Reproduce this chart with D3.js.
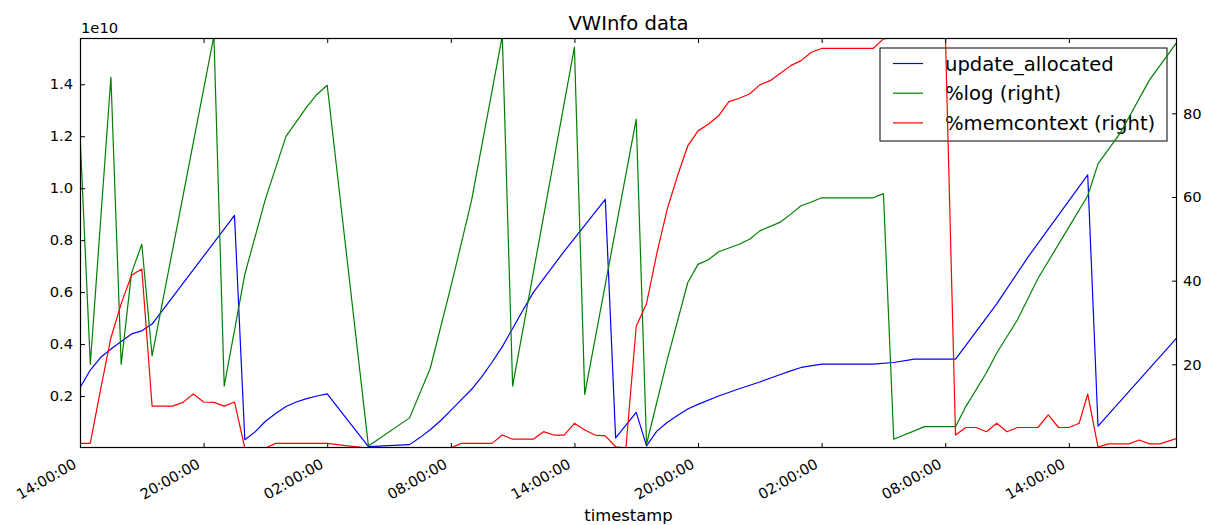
<!DOCTYPE html>
<html>
<head>
<meta charset="utf-8">
<script src="https://cdn.jsdelivr.net/npm/d3@7"></script>
<style>
  body { margin: 0; background: #fff; }
  svg { font-family: "DejaVu Sans", sans-serif; }
</style>
</head>
<body>
<svg class="svg-vwinfo" width="1205" height="525"></svg>
<script>
// tempo: "dia hh:mm"; update_allocated em unidades de 1e10
const updateAllocated = [
  ["1 14:00", 0.232], ["1 14:30", 0.30], ["1 15:00", 0.348], ["1 15:30", 0.381],
  ["1 16:00", 0.41], ["1 16:30", 0.439], ["1 17:00", 0.451], ["1 17:30", 0.477],
  ["1 21:30", 0.895], ["1 22:00", 0.032], ["1 22:30", 0.062], ["1 23:00", 0.103],
  ["1 23:30", 0.133], ["2 00:00", 0.16], ["2 00:30", 0.177], ["2 01:00", 0.19],
  ["2 01:30", 0.2], ["2 02:00", 0.208], ["2 04:00", 0.005], ["2 06:00", 0.013],
  ["2 06:30", 0.04], ["2 07:00", 0.07], ["2 07:30", 0.105], ["2 08:00", 0.145],
  ["2 08:30", 0.185], ["2 09:00", 0.225], ["2 09:30", 0.274], ["2 10:00", 0.33],
  ["2 10:30", 0.39], ["2 11:00", 0.46], ["2 11:30", 0.53], ["2 12:00", 0.598],
  ["2 13:30", 0.757], ["2 15:30", 0.957], ["2 16:00", 0.039], ["2 17:00", 0.137],
  ["2 17:30", 0.008], ["2 18:00", 0.065], ["2 18:30", 0.098], ["2 19:00", 0.125],
  ["2 19:30", 0.15], ["2 20:00", 0.168], ["2 21:00", 0.2], ["2 22:00", 0.228],
  ["2 23:00", 0.254], ["3 00:00", 0.283], ["3 00:30", 0.297], ["3 01:00", 0.31],
  ["3 02:00", 0.323], ["3 04:30", 0.323], ["3 05:30", 0.329], ["3 06:30", 0.342],
  ["3 08:30", 0.342], ["3 09:00", 0.395], ["3 10:30", 0.555], ["3 12:00", 0.733],
  ["3 14:55", 1.051], ["3 15:25", 0.084], ["3 19:15", 0.425]
];

const pctLog = [
  ["1 14:00", 75], ["1 14:30", 20], ["1 15:30", 88.6], ["1 16:00", 20],
  ["1 16:30", 41.8], ["1 17:00", 48.7], ["1 17:30", 22], ["1 20:30", 98.5],
  ["1 21:00", 14.8], ["1 22:00", 41.5], ["1 23:00", 59.5], ["2 00:00", 74.5],
  ["2 01:00", 81.5], ["2 01:30", 84.5], ["2 02:00", 86.7], ["2 04:00", 0.5],
  ["2 06:00", 7.2], ["2 07:00", 19], ["2 08:00", 38.5], ["2 09:00", 59],
  ["2 10:30", 98.5], ["2 11:00", 14.8], ["2 14:00", 95.8], ["2 14:30", 12.8],
  ["2 17:00", 78.6], ["2 17:30", 0.9], ["2 18:30", 21], ["2 19:30", 39.5],
  ["2 20:00", 43.9], ["2 20:30", 45], ["2 21:00", 46.9], ["2 22:00", 48.7],
  ["2 22:30", 49.9], ["2 23:00", 51.9], ["3 00:00", 54], ["3 00:30", 55.9],
  ["3 01:00", 57.9], ["3 01:30", 58.8], ["3 02:00", 59.8], ["3 04:30", 59.8],
  ["3 05:00", 60.8], ["3 05:30", 2.1], ["3 07:00", 5.1], ["3 08:30", 5.1],
  ["3 09:00", 9.9], ["3 10:00", 18], ["3 10:30", 22.7], ["3 11:30", 30.6],
  ["3 12:30", 40.5], ["3 14:00", 52.8], ["3 14:55", 60.3], ["3 15:25", 67.9],
  ["3 16:30", 75.3], ["3 17:55", 88], ["3 19:15", 97]
];

const pctMemcontext = [
  ["1 14:00", 1.1], ["1 14:30", 1.1], ["1 15:00", 14], ["1 15:30", 26.3],
  ["1 16:00", 34.5], ["1 16:30", 41.3], ["1 17:00", 42.8], ["1 17:30", 10],
  ["1 18:30", 10], ["1 19:00", 10.9], ["1 19:30", 12.9], ["1 20:00", 11],
  ["1 20:30", 10.9], ["1 21:00", 10], ["1 21:30", 11], ["1 22:00", 0],
  ["1 23:00", 0], ["1 23:30", 1.1], ["2 02:00", 1.1], ["2 03:00", 0.5],
  ["2 04:00", 0], ["2 08:00", 0], ["2 08:30", 1.1], ["2 10:00", 1.1],
  ["2 10:30", 3.1], ["2 11:00", 2.1], ["2 12:00", 2.1], ["2 12:30", 3.9],
  ["2 13:00", 3.1], ["2 13:30", 3.1], ["2 14:00", 5.9], ["2 14:30", 4.3],
  ["2 15:00", 3.1], ["2 15:30", 2.9], ["2 16:00", 0.3], ["2 16:30", 0],
  ["2 17:00", 29.1], ["2 17:30", 34.5], ["2 18:00", 46.5], ["2 18:30", 57],
  ["2 19:00", 65], ["2 19:30", 72.2], ["2 20:00", 75.8], ["2 20:30", 77.4],
  ["2 21:00", 79.4], ["2 21:30", 82.8], ["2 22:00", 83.6], ["2 22:30", 84.6],
  ["2 23:00", 86.8], ["2 23:30", 87.8], ["3 00:00", 89.6], ["3 00:30", 91.4],
  ["3 01:00", 92.6], ["3 01:30", 94.6], ["3 02:00", 95.5], ["3 04:30", 95.5],
  ["3 05:00", 97.8], ["3 05:30", 98.1], ["3 06:00", 99.5], ["3 06:30", 100],
  ["3 08:00", 100], ["3 08:30", 3.1], ["3 09:00", 4.9], ["3 09:30", 4.9],
  ["3 10:00", 3.9], ["3 10:30", 5.9], ["3 11:00", 3.9], ["3 11:30", 4.9],
  ["3 12:30", 4.9], ["3 13:00", 7.9], ["3 13:30", 4.9], ["3 14:00", 4.9],
  ["3 14:30", 5.9], ["3 14:55", 12.9], ["3 15:25", 0.2], ["3 15:55", 1.0],
  ["3 16:55", 1.0], ["3 17:25", 1.9], ["3 17:55", 1.0], ["3 18:25", 1.0],
  ["3 19:15", 2.3]
];

const xTicks = ["1 14:00", "1 20:00", "2 02:00", "2 08:00", "2 14:00", "2 20:00", "3 02:00", "3 08:00", "3 14:00"];
const leftTicks = [0.2, 0.4, 0.6, 0.8, 1.0, 1.2, 1.4];
const rightTicks = [20, 40, 60, 80];
const seriesNames = ["update_allocated", "%log (right)", "%memcontext (right)"];
const seriesColors = ["#0000ff", "#008000", "#ff0000"];

const parse = d3.timeParse("%d %H:%M");
const svg = d3.select(".svg-vwinfo");
const margin = { top: 38, right: 28, bottom: 77, left: 80 };
const width = 1205;
const height = 525;

// escalas
const x = d3.scaleTime()
  .domain([parse("1 14:00"), parse("3 19:15")])
  .range([margin.left, width - margin.right]);

const yLeft = d3.scaleLinear()
  .domain([0, 1.578])
  .range([height - margin.bottom, margin.top]);

const yRight = d3.scaleLinear()
  .domain([0, 98])
  .range([height - margin.bottom, margin.top]);

svg.append("clipPath").attr("id", "area")
  .append("rect")
  .attr("x", margin.left).attr("y", margin.top)
  .attr("width", width - margin.left - margin.right)
  .attr("height", height - margin.top - margin.bottom);

const lineLeft = d3.line().x(d => x(parse(d[0]))).y(d => yLeft(d[1]));
const lineRight = d3.line().x(d => x(parse(d[0]))).y(d => yRight(d[1]));

function drawLine(data, line, color) {
  svg.append("path")
    .datum(data)
    .attr("clip-path", "url(#area)")
    .attr("fill", "none")
    .attr("stroke", color)
    .attr("stroke-width", 1.2)
    .attr("stroke-linejoin", "round")
    .attr("d", line);
}

// eixo esquerdo primeiro, depois legenda, depois o eixo direito por cima
drawLine(updateAllocated, lineLeft, seriesColors[0]);

// legenda
const legend = svg.append("g").attr("transform", "translate(880, 48)");
legend.append("rect")
  .attr("width", 287).attr("height", 93)
  .attr("fill", "#fff").attr("stroke", "#000").attr("stroke-width", 1);
seriesNames.forEach((name, i) => {
  const ly = 15.5 + i * 29.7;
  legend.append("line")
    .attr("x1", 13).attr("x2", 43).attr("y1", ly).attr("y2", ly)
    .attr("stroke", seriesColors[i]).attr("stroke-width", 1.2);
  legend.append("text")
    .attr("x", 65).attr("y", ly)
    .attr("dy", "0.36em")
    .attr("font-size", "19.6px")
    .attr("fill", "#000")
    .text(name);
});

drawLine(pctLog, lineRight, seriesColors[1]);
drawLine(pctMemcontext, lineRight, seriesColors[2]);

// moldura
svg.append("rect")
  .attr("x", margin.left + 0.5).attr("y", margin.top + 0.5)
  .attr("width", width - margin.left - margin.right - 1)
  .attr("height", height - margin.top - margin.bottom - 1)
  .attr("fill", "none").attr("stroke", "#000").attr("stroke-width", 1.2);

// eixo x (embaixo)
const xAxis = svg.append("g")
  .attr("transform", `translate(0, ${height - margin.bottom})`)
  .call(d3.axisBottom(x)
    .tickValues(xTicks.map(parse))
    .tickSize(-5)
    .tickSizeOuter(0)
    .tickFormat(d3.timeFormat("%H:%M:%S")));
xAxis.selectAll("text")
  .attr("x", 0).attr("y", 0).attr("dy", 0)
  .attr("text-anchor", "end")
  .attr("transform", "translate(-3, 19) rotate(-30)");

// eixo x (em cima)
svg.append("g")
  .attr("transform", `translate(0, ${margin.top})`)
  .call(d3.axisTop(x)
    .tickValues(xTicks.map(parse))
    .tickSize(-5)
    .tickSizeOuter(0)
    .tickFormat(""));

// eixo y esquerdo
svg.append("g")
  .attr("transform", `translate(${margin.left}, 0)`)
  .call(d3.axisLeft(yLeft)
    .tickValues(leftTicks)
    .tickSize(-5)
    .tickSizeOuter(0)
    .tickPadding(7)
    .tickFormat(d3.format(".1f")));

// eixo y direito
svg.append("g")
  .attr("transform", `translate(${width - margin.right}, 0)`)
  .call(d3.axisRight(yRight)
    .tickValues(rightTicks)
    .tickSize(-5)
    .tickSizeOuter(0)
    .tickPadding(6));

svg.selectAll(".domain").remove();
svg.selectAll(".tick line").attr("stroke", "#000").attr("stroke-width", 1);
svg.selectAll(".tick text")
  .attr("font-family", "DejaVu Sans")
  .attr("font-size", "14.7px")
  .attr("fill", "#000");

// textos
svg.append("text")
  .attr("x", margin.left + 1).attr("y", 33)
  .attr("font-size", "14.7px")
  .text("1e10");

svg.append("text")
  .attr("x", (margin.left + width - margin.right) / 2).attr("y", 29.5)
  .attr("text-anchor", "middle")
  .attr("font-size", "19.6px")
  .text("VWInfo data");

svg.append("text")
  .attr("x", (margin.left + width - margin.right) / 2).attr("y", 520.5)
  .attr("text-anchor", "middle")
  .attr("font-size", "16.4px")
  .text("timestamp");
</script>
</body>
</html>
